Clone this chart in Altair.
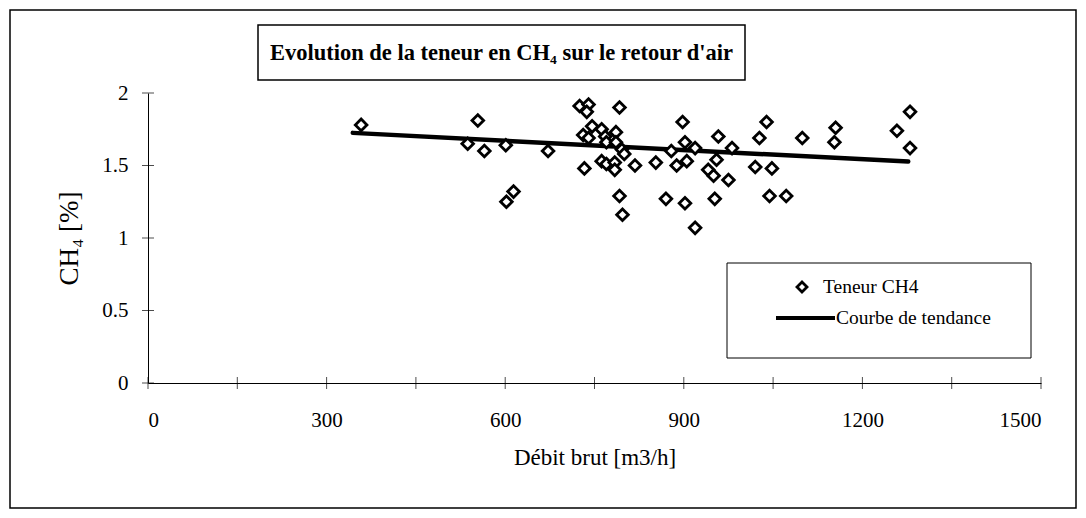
import altair as alt
import pandas as pd

# Data
debit = [358, 554, 537, 565, 601, 614, 602, 672, 725, 740, 737, 792, 746, 762, 731,
         740, 768, 786, 770, 786, 796, 800, 733, 762, 770, 784, 784, 818, 853, 792,
         797, 870, 898, 879, 888, 902, 905, 919, 902, 919, 958, 981, 955, 941, 950,
         975, 952, 1039, 1027, 1020, 1048, 1044, 1072, 1099, 1155, 1153, 1258, 1280, 1280]
teneur = [1.78, 1.81, 1.65, 1.60, 1.64, 1.32, 1.25, 1.60, 1.91, 1.92, 1.87, 1.90, 1.77, 1.75, 1.71,
          1.69, 1.70, 1.73, 1.66, 1.66, 1.61, 1.58, 1.48, 1.53, 1.51, 1.52, 1.47, 1.50, 1.52, 1.29,
          1.16, 1.27, 1.80, 1.60, 1.50, 1.66, 1.53, 1.62, 1.24, 1.07, 1.70, 1.62, 1.54, 1.47, 1.43,
          1.40, 1.27, 1.80, 1.69, 1.49, 1.48, 1.29, 1.29, 1.69, 1.76, 1.66, 1.74, 1.87, 1.62]
trend_x = [344, 1277]
trend_y = [1.725, 1.527]
x_ticks = [0, 150, 300, 450, 600, 750, 900, 1050, 1200, 1350, 1500]
x_labels = [0, 300, 600, 900, 1200, 1500]
y_ticks = [0, 0.5, 1, 1.5, 2]

FONT = "Liberation Serif"
W, H = 893, 290

pts = pd.DataFrame({"x": debit, "y": teneur})
trend = pd.DataFrame({"x": trend_x, "y": trend_y})
xt = pd.DataFrame({"x": x_ticks, "y": [0] * len(x_ticks)})
yt = pd.DataFrame({"x": [0] * len(y_ticks), "y": y_ticks})

xscale = alt.Scale(domain=[0, 1500], nice=False, zero=False)
yscale = alt.Scale(domain=[0, 2], nice=False, zero=False)

xenc = alt.X("x:Q", scale=xscale,
             axis=alt.Axis(values=x_labels, format="d", title="Débit brut [m3/h]",
                           ticks=False, tickSize=0, grid=False, domainColor="black",
                           labelPadding=26, titlePadding=16, labelFontSize=21,
                           titleFontSize=23, labelFont=FONT, titleFont=FONT,
                           labelColor="black", titleColor="black", titleFontWeight="normal"))
yenc = alt.Y("y:Q", scale=yscale,
             axis=alt.Axis(values=y_ticks, format="~g", title="CH₄ [%]",
                           ticks=False, tickSize=0, grid=False, domainColor="black",
                           labelPadding=20, titlePadding=18, labelFontSize=21,
                           titleFontSize=27, labelFont=FONT, titleFont=FONT,
                           labelColor="black", titleColor="black", titleFontWeight="normal"))

points = alt.Chart(pts).mark_point(shape="diamond", filled=False, fill="white",
                                   stroke="black", strokeWidth=2.8, size=135, opacity=1).encode(
    x=xenc, y=yenc)

line = alt.Chart(trend).mark_line(color="black", strokeWidth=4.5, strokeCap="round").encode(
    x=alt.X("x:Q", scale=xscale), y=alt.Y("y:Q", scale=yscale))

xtick = alt.Chart(xt).mark_tick(orient="vertical", color="black", thickness=1, size=12).encode(
    x=alt.X("x:Q", scale=xscale), y=alt.Y("y:Q", scale=yscale))
ytick = alt.Chart(yt).mark_tick(orient="horizontal", color="black", thickness=1, size=12).encode(
    x=alt.X("x:Q", scale=xscale), y=alt.Y("y:Q", scale=yscale))

one = pd.DataFrame({"a": [0]})

frame = alt.Chart(one).mark_rect(fill=None, stroke="black", strokeWidth=1.5).encode(
    x=alt.value(-138), x2=alt.value(W + 35), y=alt.value(-83), y2=alt.value(H + 125))

title_box = alt.Chart(one).mark_rect(fill="white", stroke="black", strokeWidth=1.5).encode(
    x=alt.value(110), x2=alt.value(597), y=alt.value(-68), y2=alt.value(-13))
title_txt = alt.Chart(one).mark_text(text="Evolution de la teneur en CH₄  sur le retour d'air",
                                     font=FONT, fontSize=22.5, fontWeight="bold", color="black",
                                     align="center", baseline="middle").encode(
    x=alt.value(353.5), y=alt.value(-40))

leg_box = alt.Chart(one).mark_rect(fill="white", stroke="black", strokeWidth=1).encode(
    x=alt.value(579), x2=alt.value(883), y=alt.value(170), y2=alt.value(265))
leg_pt = alt.Chart(one).mark_point(shape="diamond", filled=False, fill="white", stroke="black",
                                   strokeWidth=2.8, size=100, opacity=1).encode(
    x=alt.value(654), y=alt.value(194))
leg_pt_txt = alt.Chart(one).mark_text(text="Teneur CH4", font=FONT, fontSize=19.5, color="black",
                                      align="left", baseline="middle").encode(
    x=alt.value(675), y=alt.value(194))
leg_ln = alt.Chart(one).mark_rule(color="black", strokeWidth=4).encode(
    x=alt.value(628), x2=alt.value(687), y=alt.value(225))
leg_ln_txt = alt.Chart(one).mark_text(text="Courbe de tendance", font=FONT, fontSize=19.5,
                                      color="black", align="left", baseline="middle").encode(
    x=alt.value(688), y=alt.value(225))

chart = alt.layer(frame, xtick, ytick, line, points, title_box, title_txt,
                  leg_box, leg_pt, leg_pt_txt, leg_ln, leg_ln_txt).properties(
    width=W, height=H,
    autosize=alt.AutoSizeParams(type="none"),
    padding={"left": 140, "top": 85, "right": 37, "bottom": 127},
    background="white",
).configure_view(stroke=None)

chart.save("out.html", embed_options={"renderer": "svg", "actions": False})
